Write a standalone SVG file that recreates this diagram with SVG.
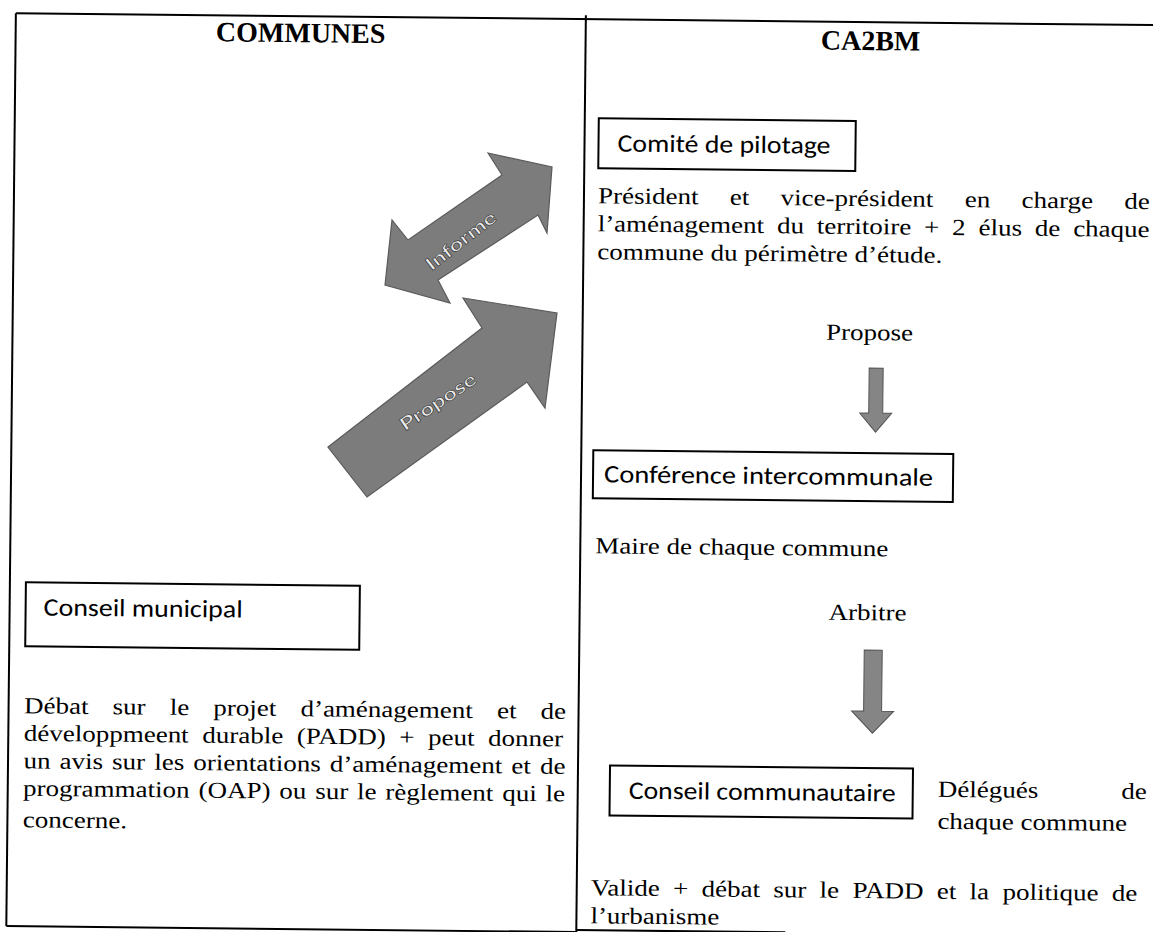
<svg xmlns="http://www.w3.org/2000/svg" width="1153" height="932" viewBox="0 0 1153 932">
<style>
.frame{stroke:#000;stroke-width:2;fill:none}
.box{fill:#fff;stroke:#000;stroke-width:2}
.hdr{font-family:"Liberation Serif",serif;font-weight:bold;font-size:28px;fill:#000}
.t{font-family:"Liberation Serif",serif;font-size:23px;fill:#000}
.lbl{font-family:Carlito,Lato,"Open Sans",sans-serif;font-size:25px;fill:#000}
.big{fill:#7c7c7c;stroke:#5a5a5a;stroke-width:1.2}
.small{fill:#858585;stroke:#555;stroke-width:1}
.at{font-family:Lato,"Open Sans",sans-serif;font-size:18px;font-weight:bold;fill:#ececec;stroke:#333;stroke-width:0.6}
</style>
<rect width="1153" height="932" fill="#fff"/>
<g transform="rotate(0.6)">
<g id="table">
<line class="frame" x1="16" y1="13" x2="1175" y2="13"/>
<line class="frame" x1="16" y1="13" x2="16" y2="926"/>
<line class="frame" x1="586" y1="9" x2="586" y2="945"/>
<line class="frame" x1="16" y1="926" x2="586" y2="926"/>
<line class="frame" x1="586" y1="924" x2="795" y2="924"/>
<text class="hdr" x="301" y="39" text-anchor="middle">COMMUNES</text>
<text class="hdr" x="871" y="41" text-anchor="middle">CA2BM</text>
</g>
<g id="connectors-vertical">
<polygon id="arrow-propose-down" class="small" points="873,359 887,359 887,404 896,404 880,423 864,404 873,404"/>
<polygon id="arrow-arbitre-down" class="small" points="871,641 889,641 889,702 901,702 880,724 859,702 871,702"/>
</g>
<g id="node-conseil-municipal">
<rect class="box" x="32" y="582" width="334" height="64"/>
<text class="lbl" x="50" y="615" textLength="199" lengthAdjust="spacingAndGlyphs">Conseil municipal</text>
</g>
<g id="node-comite">
<rect class="box" x="600" y="112" width="257" height="50"/>
<text class="lbl" x="619" y="145" textLength="213" lengthAdjust="spacingAndGlyphs">Comité de pilotage</text>
</g>
<g id="node-conference">
<rect class="box" x="598" y="444" width="360" height="48"/>
<text class="lbl" x="609" y="476" textLength="329" lengthAdjust="spacingAndGlyphs">Conférence intercommunale</text>
</g>
<g id="node-conseil-communautaire">
<rect class="box" x="618" y="759" width="303" height="50"/>
<text class="lbl" x="637" y="792" textLength="267" lengthAdjust="spacingAndGlyphs">Conseil communautaire</text>
</g>
<g id="texts" class="t" transform="scale(1.174,1)">
<g id="text-communes">
<text x="26.8" y="713" style="word-spacing:14.8px">Débat sur le projet d’aménagement et de</text>
<text x="26.8" y="740.5" style="word-spacing:5.8px">développmeent durable (PADD) + peut donner</text>
<text x="26.8" y="768" style="word-spacing:2px">un avis sur les orientations d’aménagement et de</text>
<text x="26.8" y="795.5" style="word-spacing:1.8px">programmation (OAP) ou sur le règlement qui le</text>
<text x="26.8" y="827">concerne.</text>
</g>
<g id="text-comite">
<text x="511.1" y="197" style="word-spacing:20.9px">Président et vice-président en charge de</text>
<text x="511.1" y="225" style="word-spacing:5.2px">l’aménagement du territoire + 2 élus de chaque</text>
<text x="511.1" y="253">commune du périmètre d’étude.</text>
<text x="743.6" y="331" text-anchor="middle">Propose</text>
</g>
<g id="text-conference">
<text x="511.9" y="547">Maire de chaque commune</text>
<text x="744.5" y="611" text-anchor="middle">Arbitre</text>
</g>
<g id="text-communautaire">
<text x="805.8" y="787" style="word-spacing:65px">Délégués de</text>
<text x="805.8" y="819">chaque commune</text>
<text x="511.1" y="889" style="word-spacing:5.6px">Valide + débat sur le PADD et la politique de</text>
<text x="511.1" y="917">l’urbanisme</text>
</g>
</g>
</g>
<g id="connectors">
<g id="arrow-informe">
<polygon class="big" points="488,153 552,167 547,233 538,215 438,280 450,303 385,285 392,220 408,240 502,175"/>
<text class="at" x="461" y="247" text-anchor="middle" transform="rotate(-38 461 241)" textLength="84" lengthAdjust="spacingAndGlyphs">Informe</text>
</g>
<g id="arrow-propose">
<polygon class="big" points="328,447 482,328 463,298 557,313 545,408 527,382 367,497"/>
<text class="at" x="438" y="408" text-anchor="middle" transform="rotate(-34 438 402)" textLength="88" lengthAdjust="spacingAndGlyphs">Propose</text>
</g>
</g>
</svg>
